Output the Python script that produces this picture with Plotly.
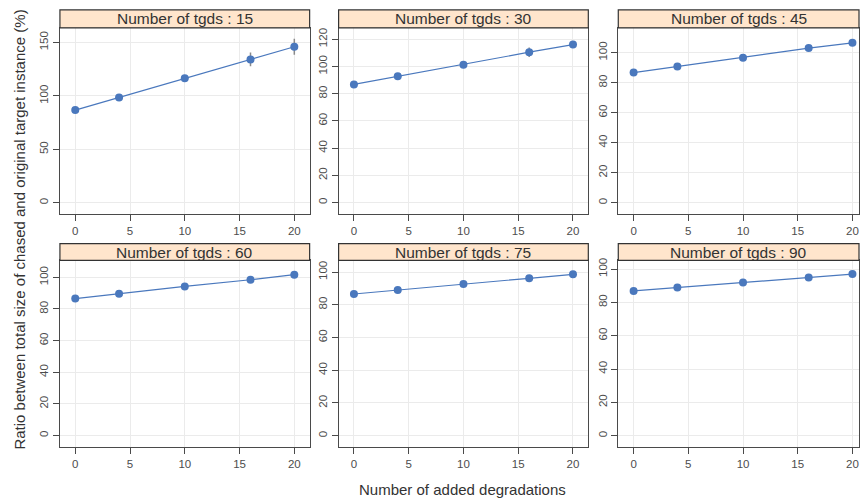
import plotly.graph_objects as go

# ---- data ----
x_degr = [0, 4, 10, 16, 20]
tgds = [15, 30, 45, 60, 75, 90]
ratio_15 = [86.8, 98.6, 116.6, 134.2, 146.0]
ratio_30 = [86.8, 92.8, 101.3, 110.5, 116.1]
ratio_45 = [86.8, 90.9, 96.7, 103.1, 106.6]
ratio_60 = [86.6, 89.7, 94.3, 98.5, 101.7]
ratio_75 = [86.6, 89.1, 92.7, 96.2, 98.6]
ratio_90 = [86.9, 88.9, 91.9, 94.9, 97.0]
err_15 = [1.0, 2.0, 2.5, 6.5, 7.5]
err_30 = [0.5, 1.0, 1.5, 3.5, 2.5]
err_45 = [0.4, 0.6, 0.8, 1.2, 1.0]
err_60 = [0.3, 0.5, 0.6, 0.8, 0.8]
err_75 = [0.3, 0.4, 0.6, 0.7, 0.7]
err_90 = [0.3, 0.4, 0.5, 0.6, 0.6]
series = [ratio_15, ratio_30, ratio_45, ratio_60, ratio_75, ratio_90]
errors = [err_15, err_30, err_45, err_60, err_75, err_90]
x_ticks = [0, 5, 10, 15, 20]
y_ticks = [[0, 50, 100, 150], [0, 20, 40, 60, 80, 100, 120],
           [0, 20, 40, 60, 80, 100], [0, 20, 40, 60, 80, 100],
           [0, 20, 40, 60, 80, 100], [0, 20, 40, 60, 80, 100]]

# ---- layout geometry (pixels) ----
W, H = 860, 501
col_px = [(60, 310), (339, 589), (619, 860)]
x_ranges = [[-1.4, 21.4], [-1.4, 21.4], [-1.4, 20.6]]
row_px = [(25, 212), (259, 447)]
strip_px = [(7, 25), (242, 259)]
y_ranges = [[-10.2, 163.7], [-8.2, 128.4], [-7.3, 116.6],
            [-7.5, 110.7], [-7.1, 107.1], [-7.0, 105.2]]

LINE = "#4a78bd"
AX = "#4a4a4a"
TXT = "#4d4d4d"
FONT = "Liberation Sans, Arial, sans-serif"

fig = go.Figure()
layout = dict(
    width=W, height=H, margin=dict(l=0, r=0, t=0, b=0),
    paper_bgcolor="white", plot_bgcolor="white", showlegend=False,
    font=dict(family=FONT, color=TXT),
)
shapes = []
annotations = []

for i, (t, ys, es) in enumerate(zip(tgds, series, errors)):
    r, c = divmod(i, 3)
    n = i + 1
    xa = "x" if n == 1 else f"x{n}"
    ya = "y" if n == 1 else f"y{n}"
    x0, x1 = col_px[c]
    y0, y1 = row_px[r]
    xdom = [x0 / W, x1 / W]
    ydom = [1 - y1 / H, 1 - y0 / H]
    fig.add_trace(go.Scatter(
        x=x_degr, y=ys, xaxis=xa, yaxis=ya, mode="lines+markers",
        line=dict(color=LINE, width=1.2),
        marker=dict(color=LINE, size=8),
        error_y=dict(type="data", array=es, color="#8a8a8a", thickness=1.5, width=0),
    ))
    common = dict(showline=True, linecolor=AX, linewidth=1.2, mirror=True,
                  ticks="outside", ticklen=6, tickcolor=AX, tickwidth=1,
                  showgrid=True, gridcolor="#ebebeb", gridwidth=1, zeroline=False,
                  tickfont=dict(size=11.5, color=TXT, family=FONT))
    layout["xaxis" if n == 1 else f"xaxis{n}"] = dict(
        domain=xdom, range=x_ranges[c], tickvals=x_ticks, anchor=ya, **common)
    layout["yaxis" if n == 1 else f"yaxis{n}"] = dict(
        domain=ydom, range=y_ranges[i], tickvals=y_ticks[i], tickangle=-90,
        anchor=xa, **common)
    s0, s1 = strip_px[r]
    shapes.append(dict(type="rect", xref="paper", yref="paper",
                       x0=x0 / W, x1=x1 / W, y0=1 - s1 / H, y1=1 - s0 / H,
                       fillcolor="#ffe5cc", line=dict(color="#333333", width=1.2)))
    annotations.append(dict(text=f"Number of tgds : {t}", xref="paper", yref="paper",
                            x=(x0 + min(x1, x0 + 250)) / 2 / W, y=1 - (s0 + s1) / 2 / H,
                            showarrow=False, xanchor="center", yanchor="middle",
                            font=dict(size=15.5, color="#333333", family=FONT)))

annotations.append(dict(text="Ratio between total size of chased and original target instance (%)",
                        xref="paper", yref="paper", x=20 / W, y=1 - 228 / H,
                        textangle=-90, showarrow=False, xanchor="center", yanchor="middle",
                        font=dict(size=15, color="#333333", family=FONT)))
annotations.append(dict(text="Number of added degradations", xref="paper", yref="paper",
                        x=463 / W, y=1 - 489 / H, showarrow=False,
                        xanchor="center", yanchor="middle",
                        font=dict(size=15, color="#333333", family=FONT)))
layout["shapes"] = shapes
layout["annotations"] = annotations
fig.update_layout(**layout)
fig.write_html("out.html", config={"displayModeBar": False},
               post_script="document.body.style.margin='0';document.body.style.overflow='hidden';")
